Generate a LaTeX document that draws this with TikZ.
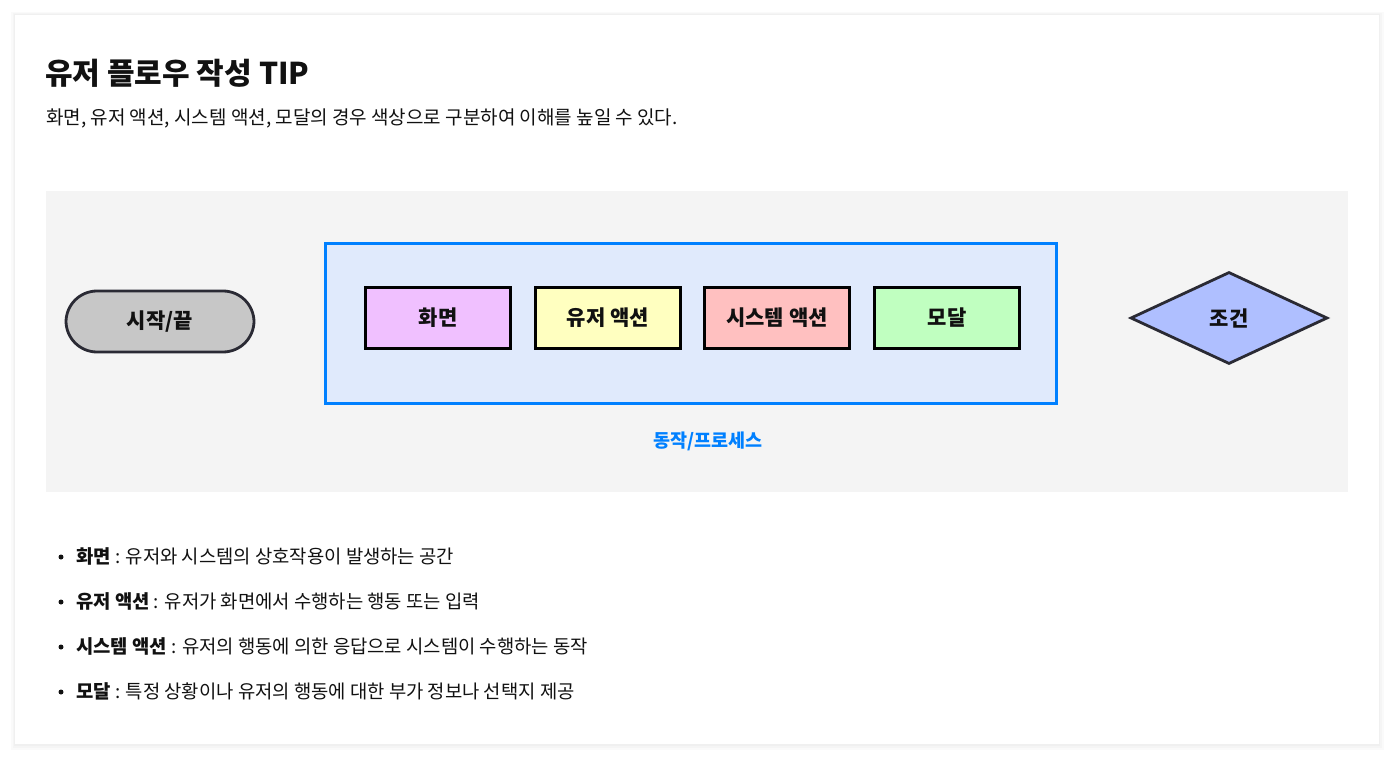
\documentclass[tikz,border=0pt]{standalone}
\usepackage{fontspec}
\setmainfont{Noto Sans CJK KR}
\usetikzlibrary{shapes.geometric}

\definecolor{panelgray}{RGB}{244,244,244}
\definecolor{procblue}{RGB}{0,128,255}
\definecolor{procfill}{RGB}{224,234,252}
\definecolor{edgedark}{RGB}{42,42,52}
\definecolor{textdark}{RGB}{17,17,17}

\begin{document}
\begin{tikzpicture}[x=1pt,y=-1pt,
	every node/.style={text=textdark},
	box/.style={draw=black,line width=3pt,minimum width=145pt,minimum height=61pt,inner sep=0pt,font=\bfseries\fontsize{21}{24}\selectfont},
	bullettext/.style={anchor=west,inner sep=0pt,font=\fontsize{18.8}{22}\selectfont}]
	% page and card
	\useasboundingbox (0,0) rectangle (1394,759);
	\fill[white] (0,0) rectangle (1394,759);
	\fill[black!2] (11,12) rectangle (1384,750);
	\fill[black!4] (13,13) rectangle (1382,748);
	\fill[black!6] (14,14) rectangle (1380,746);
	\fill[white] (15,15) rectangle (1379,744);
	% heading
	\node[anchor=west,inner sep=0pt,font=\bfseries\fontsize{30}{34}\selectfont] (title) at (45,73) {유저 플로우 작성 TIP};
	\node[anchor=west,inner sep=0pt,font=\fontsize{19}{22}\selectfont] (intro) at (46,118) {화면, 유저 액션, 시스템 액션, 모달의 경우 색상으로 구분하여 이해를 높일 수 있다.};
	% legend panel
	\fill[panelgray] (46,191) rectangle (1348,492);
	\node[draw=edgedark,fill=black!22,line width=2.8pt,rounded corners=31pt,minimum width=188pt,minimum height=61pt,inner sep=0pt,font=\bfseries\fontsize{21}{24}\selectfont] (terminal) at (160,321.5) {시작/끝};
	\node[draw=procblue,fill=procfill,line width=3pt,minimum width=731pt,minimum height=159pt,inner sep=0pt] (process) at (690.5,323.5) {};
\definecolor{color0}{RGB}{240,192,255}
	\node[box,fill=color0] (screen) at (438,318) {화면};
\definecolor{color1}{RGB}{255,255,192}
	\node[box,fill=color1] (useraction) at (608,318) {유저 액션};
\definecolor{color2}{RGB}{255,192,192}
	\node[box,fill=color2] (sysaction) at (777,318) {시스템 액션};
\definecolor{color3}{RGB}{192,255,192}
	\node[box,fill=color3] (modal) at (947,318) {모달};
	\node[text=procblue,inner sep=0pt,font=\bfseries\fontsize{18.5}{22}\selectfont] (processlabel) at (708,441) {동작/프로세스};
\definecolor{color4}{RGB}{175,191,255}
	\node[diamond,draw=edgedark,fill=color4,line width=2.8pt,minimum width=197pt,minimum height=92pt,inner sep=0pt,font=\bfseries\fontsize{21}{24}\selectfont] (condition) at (1229,318) {조건};
	% notes
	\fill[textdark] (61,557) circle (2.5pt);
	\node[bullettext] (note1) at (76,556) {\textbf{화면} : 유저와 시스템의 상호작용이 발생하는 공간};
	\fill[textdark] (61,602) circle (2.5pt);
	\node[bullettext] (note2) at (76,601) {\textbf{유저 액션} : 유저가 화면에서 수행하는 행동 또는 입력};
	\fill[textdark] (61,647) circle (2.5pt);
	\node[bullettext] (note3) at (76,646) {\textbf{시스템 액션} : 유저의 행동에 의한 응답으로 시스템이 수행하는 동작};
	\fill[textdark] (61,692) circle (2.5pt);
	\node[bullettext] (note4) at (76,691) {\textbf{모달} : 특정 상황이나 유저의 행동에 대한 부가 정보나 선택지 제공};
\end{tikzpicture}
\end{document}
